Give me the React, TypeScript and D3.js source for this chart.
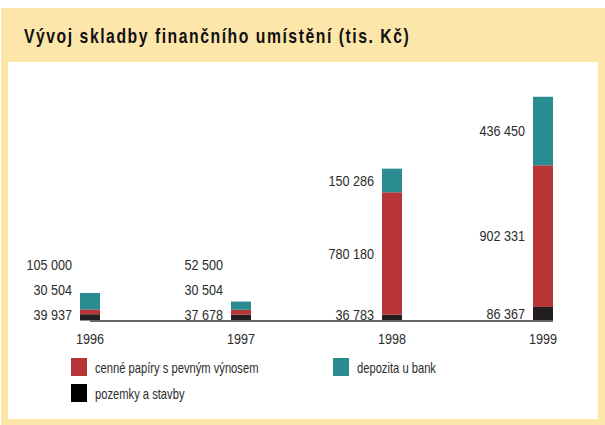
import { useMemo } from "react";
import { scalePoint, scaleLinear, stack } from "d3";

const YEARS = ["1996", "1997", "1998", "1999"];
const POZEMKY = [39937, 37678, 36783, 86367];
const CENNE_PAPIRY = [30504, 30504, 780180, 902331];
const DEPOZITA = [105000, 52500, 150286, 436450];
const VALUE_LABELS = [
  ["39 937", "30 504", "105 000"],
  ["37 678", "30 504", "52 500"],
  ["36 783", "780 180", "150 286"],
  ["86 367", "902 331", "436 450"],
];
const SERIES = [
  { key: "pozemky", label: "pozemky a stavby", color: "#231f20" },
  { key: "cenne", label: "cenné papíry s pevným výnosem", color: "#b73537" },
  { key: "depozita", label: "depozita u bank", color: "#2a8b90" },
];

const FONT = "'Liberation Sans', Arial, sans-serif";
const TEXT = "#2b2b2b";

// condensed text: regular font squeezed horizontally
function NText({ x, y, sx = 0.87, anchor = "start", size = 14.5, children, ...rest }: any) {
  return (
    <text
      transform={`translate(${x},${y}) scale(${sx},1)`}
      textAnchor={anchor}
      fontSize={size}
      fill={TEXT}
      {...rest}
    >
      {children}
    </text>
  );
}

export default function App() {
  const rows = useMemo(
    () =>
      YEARS.map((year, i) => ({
        year,
        pozemky: POZEMKY[i],
        cenne: CENNE_PAPIRY[i],
        depozita: DEPOZITA[i],
      })),
    []
  );
  const layers = stack().keys(SERIES.map((s) => s.key))(rows as any);

  const baseY = 320.5;
  const x = scalePoint().domain(YEARS).range([90, 543]);
  const y = scaleLinear().domain([0, 1430000]).range([baseY, 96]);
  const barW = 20;

  // label centres: middle of segment, pushed up so they don't collide
  const labelPos = YEARS.map((year, i) => {
    let prev = Infinity;
    return layers.map((layer) => {
      const d = layer[i];
      const mid = (y(d[0]) + y(d[1])) / 2;
      const c = Math.min(mid, baseY - 6, prev - 25);
      prev = c;
      return c;
    });
  });

  return (
    <svg
      width={605}
      height={425}
      style={{ position: "absolute", left: 0, top: 0, background: "#fff" }}
      fontFamily={FONT}
    >
      <rect x={1} y={8} width={604} height={417} fill="#fde6aa" />
      <rect x={8} y={62} width={590} height={357} fill="#fff" />
      <text
        transform="translate(24,43) scale(0.75,1)"
        fontSize={21}
        fontWeight="bold"
        fill="#111"
        textLength={513}
        lengthAdjust="spacing"
      >
        Vývoj skladby finančního umístění (tis. Kč)
      </text>

      {layers.map((layer, li) =>
        layer.map((d, i) => (
          <rect
            key={`${li}-${i}`}
            x={(x(YEARS[i]) as number) - barW / 2}
            y={y(d[1])}
            width={barW}
            height={y(d[0]) - y(d[1])}
            fill={SERIES[li].color}
          />
        ))
      )}

      <line x1={90} x2={553} y1={baseY + 0.5} y2={baseY + 0.5} stroke="#666" strokeWidth={2} />

      {YEARS.map((year, i) =>
        VALUE_LABELS[i].map((lab, li) => (
          <NText
            key={`${year}-${li}`}
            x={(x(year) as number) - barW / 2 - 8}
            y={labelPos[i][li] + 5.2}
            anchor="end"
          >
            {lab}
          </NText>
        ))
      )}

      {YEARS.map((year) => (
        <NText key={year} x={x(year)} y={344} anchor="middle">
          {year}
        </NText>
      ))}

      {[
        { s: SERIES[1], x: 71, y: 358 },
        { s: SERIES[2], x: 333, y: 358 },
        { s: SERIES[0], x: 71, y: 384 },
      ].map(({ s, x: lx, y: ly }) => (
        <g key={s.key}>
          <rect x={lx} y={ly} width={16} height={18} fill={s.color === "#231f20" ? "#000" : s.color} />
          <NText x={lx + 24} y={ly + 15} size={14} sx={0.8}>
            {s.label}
          </NText>
        </g>
      ))}
    </svg>
  );
}
